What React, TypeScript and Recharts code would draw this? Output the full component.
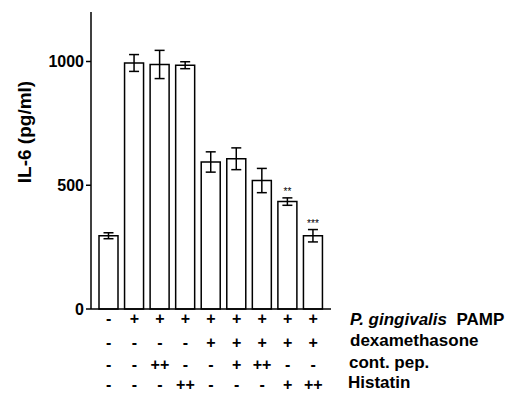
import React from "react";
import { BarChart, Bar, XAxis, YAxis, ErrorBar, LabelList } from "recharts";

const groups = ["g1", "g2", "g3", "g4", "g5", "g6", "g7", "g8", "g9"];
const il6 = [296, 994, 988, 985, 594, 607, 519, 434, 296];
const il6Err = [12, 34, 57, 14, 41, 44, 49, 15, 25];
const significance = ["", "", "", "", "", "", "", "**", "***"];

const pamp = ["-", "+", "+", "+", "+", "+", "+", "+", "+"];
const dexamethasone = ["-", "-", "-", "-", "+", "+", "+", "+", "+"];
const contPep = ["-", "-", "++", "-", "-", "+", "++", "-", "-"];
const histatin = ["-", "-", "-", "++", "-", "-", "-", "+", "++"];
const yTicks = [0, 500, 1000];

const signRows = [pamp, dexamethasone, contPep, histatin];
const rowOffsets = [9, 33, 55, 75];

const data = groups.map((g, i) => ({
  group: g,
  value: il6[i],
  err: il6Err[i],
  sig: significance[i],
}));

const FONT = "'Liberation Sans', Arial, sans-serif";

function SignTick(props: any) {
  const { x, y, payload } = props;
  const i = payload.index;
  return (
    <g>
      {signRows.map((row, r) => (
        <text
          key={r}
          x={x}
          y={y + rowOffsets[r]}
          textAnchor="middle"
          dominantBaseline="central"
          fontFamily={FONT}
          fontWeight="bold"
          fontSize={16}
          fill="#000"
        >
          {row[i]}
        </text>
      ))}
    </g>
  );
}

function SigLabel(props: any) {
  const { x, y, width, height, index } = props;
  const label = significance[index];
  if (!label) return null;
  const errPx = (il6Err[index] * height) / il6[index];
  return (
    <text
      x={x + width / 2}
      y={y - errPx - 3}
      textAnchor="middle"
      fontFamily={FONT}
      fontSize={10}
      fill="#000"
      stroke="none"
    >
      {label}
    </text>
  );
}

function YLabel() {
  return (
    <text
      transform="translate(31,132) rotate(-90)"
      textAnchor="middle"
      fontFamily={FONT}
      fontWeight="bold"
      fontSize={19}
      fill="#000"
    >
      IL-6 (pg/ml)
    </text>
  );
}

const labelStyle: React.CSSProperties = {
  position: "absolute",
  left: 0,
  fontFamily: FONT,
  fontWeight: "bold",
  fontSize: 17,
  lineHeight: "20px",
  color: "#000",
  whiteSpace: "nowrap",
};

export default function App() {
  return (
    <div style={{ position: "absolute", left: 0, top: 0, width: 508, height: 394, background: "#fff" }}>
      <BarChart
        width={508}
        height={394}
        data={data}
        margin={{ top: 12, right: 177, bottom: 0, left: 0 }}
      >
        <XAxis
          dataKey="group"
          tick={<SignTick />}
          tickLine={false}
          tickSize={0}
          tickMargin={0}
          interval={0}
          padding={{ left: 5, right: 5 }}
          axisLine={{ stroke: "#000", strokeWidth: 1.5 }}
          height={85}
        />
        <YAxis
          width={91}
          domain={[0, 1200]}
          ticks={yTicks}
          tickSize={5}
          tickLine={{ stroke: "#000", strokeWidth: 1.5 }}
          axisLine={{ stroke: "#000", strokeWidth: 1.5 }}
          tick={{ fill: "#000", fontFamily: FONT, fontWeight: "bold", fontSize: 16 }}
          label={{ content: <YLabel /> }}
        />
        <Bar dataKey="value" fill="#fff" stroke="#000" strokeWidth={1.5} barSize={19} isAnimationActive={false}>
          <ErrorBar dataKey="err" width={5} stroke="#000" strokeWidth={1.5} direction="y" />
          <LabelList dataKey="sig" content={<SigLabel />} />
        </Bar>
      </BarChart>
      <div style={{ ...labelStyle, left: 350, top: 310 }}>
        <i>P. gingivalis</i>&nbsp; PAMP
      </div>
      <div style={{ ...labelStyle, left: 350, top: 331 }}>dexamethasone</div>
      <div style={{ ...labelStyle, left: 349, top: 353 }}>cont. pep.</div>
      <div style={{ ...labelStyle, left: 348, top: 373 }}>Histatin</div>
    </div>
  );
}
